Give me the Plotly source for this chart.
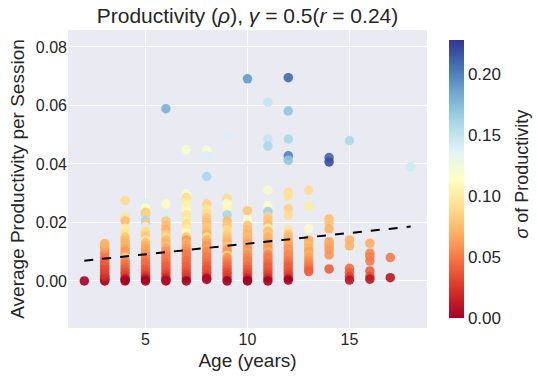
import plotly.graph_objects as go

# productivity per session and its std, per age
age = (
    [2]
    + [3] * 15
    + [4] * 22
    + [5] * 27
    + [6] * 24
    + [7] * 27
    + [8] * 27
    + [9] * 25
    + [10] * 23
    + [11] * 28
    + [12] * 27
    + [13] * 15
    + [14] * 11
    + [15] * 7
    + [16] * 7
    + [17] * 2
    + [18]
)

productivity = (
    [0.0]
    # age 3
    + [0.0, 0.0005, 0.001, 0.0015, 0.002, 0.003, 0.004, 0.005, 0.006, 0.007,
       0.008, 0.0095, 0.011, 0.012, 0.0128]
    # age 4
    + [0.0275, 0.0218, 0.0205, 0.018, 0.0165, 0.015, 0.014, 0.013, 0.012, 0.011,
       0.010, 0.009, 0.008, 0.007, 0.006, 0.005, 0.004, 0.003, 0.002, 0.001,
       0.0005, 0.0]
    # age 5
    + [0.0265, 0.025, 0.0235, 0.0225, 0.0208, 0.0195, 0.0185, 0.017, 0.016, 0.015,
       0.014, 0.013, 0.012, 0.011, 0.010, 0.009, 0.008, 0.007, 0.006, 0.005,
       0.004, 0.003, 0.002, 0.0015, 0.001, 0.0005, 0.0]
    # age 6
    + [0.0589, 0.0263, 0.0227, 0.0205, 0.019, 0.0175, 0.016, 0.015, 0.014, 0.013,
       0.012, 0.011, 0.010, 0.009, 0.008, 0.007, 0.006, 0.005, 0.004, 0.003,
       0.002, 0.001, 0.0003, 0.0]
    # age 7
    + [0.0449, 0.0298, 0.0285, 0.027, 0.0255, 0.024, 0.0225, 0.021, 0.0195, 0.018,
       0.0165, 0.015, 0.014, 0.013, 0.012, 0.011, 0.010, 0.009, 0.008, 0.007,
       0.006, 0.005, 0.004, 0.003, 0.002, 0.001, 0.0]
    # age 8
    + [0.0447, 0.0429, 0.0357, 0.0263, 0.0245, 0.023, 0.0215, 0.020, 0.0185, 0.017,
       0.016, 0.015, 0.014, 0.013, 0.012, 0.011, 0.010, 0.009, 0.008, 0.007,
       0.006, 0.005, 0.004, 0.003, 0.002, 0.001, 0.0005]
    # age 9
    + [0.0494, 0.0283, 0.0265, 0.025, 0.0226, 0.0205, 0.019, 0.0175, 0.016, 0.015,
       0.014, 0.013, 0.012, 0.011, 0.010, 0.0088, 0.008, 0.007, 0.006, 0.005,
       0.004, 0.003, 0.002, 0.001, 0.0]
    # age 10
    + [0.0691, 0.024, 0.021, 0.019, 0.0175, 0.016, 0.015, 0.014, 0.013, 0.012,
       0.011, 0.010, 0.009, 0.008, 0.007, 0.006, 0.005, 0.004, 0.003, 0.002,
       0.001, 0.0003, 0.0]
    # age 11
    + [0.0611, 0.0485, 0.0461, 0.031, 0.0256, 0.0237, 0.022, 0.021, 0.0195, 0.018,
       0.017, 0.016, 0.015, 0.014, 0.013, 0.012, 0.011, 0.010, 0.009, 0.008,
       0.007, 0.006, 0.005, 0.004, 0.003, 0.002, 0.001, 0.0]
    # age 12
    + [0.0695, 0.0581, 0.0485, 0.0428, 0.0413, 0.0303, 0.029, 0.0248, 0.0225, 0.0175,
       0.016, 0.015, 0.014, 0.013, 0.012, 0.011, 0.010, 0.009, 0.008, 0.007,
       0.006, 0.005, 0.004, 0.003, 0.002, 0.001, 0.0003]
    # age 13
    + [0.031, 0.0255, 0.0179, 0.014, 0.013, 0.012, 0.011, 0.010, 0.009, 0.008,
       0.007, 0.006, 0.005, 0.004, 0.0032]
    # age 14
    + [0.0422, 0.0407, 0.0212, 0.0197, 0.0178, 0.0134, 0.0125, 0.0117, 0.0105, 0.0089,
       0.0041]
    # age 15
    + [0.048, 0.014, 0.012, 0.0043, 0.003, 0.0015, 0.0003]
    # age 16
    + [0.0129, 0.0095, 0.0083, 0.0068, 0.0034, 0.0016, 0.0006]
    # age 17
    + [0.008, 0.0011]
    # age 18
    + [0.039]
)

sigma = (
    [0.0]
    # age 3
    + [0.0, 0.005, 0.01, 0.015, 0.02, 0.025, 0.03, 0.032, 0.035, 0.04,
       0.042, 0.05, 0.06, 0.065, 0.07]
    # age 4
    + [0.09, 0.095, 0.075, 0.1, 0.095, 0.08, 0.075, 0.07, 0.07, 0.065,
       0.06, 0.065, 0.085, 0.055, 0.05, 0.045, 0.04, 0.035, 0.03, 0.02,
       0.01, 0.0]
    # age 5
    + [0.14, 0.115, 0.08, 0.085, 0.16, 0.08, 0.14, 0.09, 0.085, 0.08,
       0.1, 0.075, 0.07, 0.065, 0.065, 0.06, 0.055, 0.05, 0.045, 0.045,
       0.04, 0.035, 0.03, 0.025, 0.02, 0.01, 0.0]
    # age 6
    + [0.18, 0.115, 0.14, 0.08, 0.075, 0.07, 0.08, 0.09, 0.075, 0.07,
       0.075, 0.065, 0.06, 0.055, 0.05, 0.05, 0.045, 0.04, 0.04, 0.035,
       0.03, 0.02, 0.012, 0.005]
    # age 7
    + [0.12, 0.12, 0.09, 0.1, 0.105, 0.11, 0.095, 0.1, 0.09, 0.1,
       0.11, 0.08, 0.06, 0.07, 0.065, 0.06, 0.055, 0.05, 0.05, 0.045,
       0.045, 0.04, 0.04, 0.035, 0.03, 0.025, 0.0]
    # age 8
    + [0.12, 0.14, 0.16, 0.085, 0.095, 0.09, 0.08, 0.075, 0.08, 0.075,
       0.07, 0.09, 0.07, 0.065, 0.06, 0.065, 0.055, 0.055, 0.05, 0.05,
       0.045, 0.04, 0.035, 0.035, 0.03, 0.01, 0.005]
    # age 9
    + [0.14, 0.09, 0.12, 0.11, 0.16, 0.075, 0.08, 0.09, 0.085, 0.08,
       0.075, 0.07, 0.08, 0.065, 0.06, 0.085, 0.06, 0.055, 0.05, 0.045,
       0.04, 0.035, 0.03, 0.025, 0.0]
    # age 10
    + [0.19, 0.08, 0.12, 0.08, 0.075, 0.07, 0.075, 0.07, 0.065, 0.07,
       0.06, 0.065, 0.06, 0.055, 0.05, 0.05, 0.045, 0.04, 0.035, 0.03,
       0.02, 0.01, 0.0]
    # age 11
    + [0.15, 0.15, 0.16, 0.12, 0.115, 0.165, 0.085, 0.08, 0.075, 0.1,
       0.075, 0.08, 0.07, 0.07, 0.065, 0.065, 0.06, 0.07, 0.055, 0.05,
       0.05, 0.045, 0.04, 0.04, 0.035, 0.03, 0.02, 0.0]
    # age 12
    + [0.21, 0.17, 0.16, 0.2, 0.17, 0.09, 0.095, 0.085, 0.09, 0.095,
       0.08, 0.075, 0.07, 0.07, 0.065, 0.06, 0.06, 0.055, 0.055, 0.05,
       0.045, 0.04, 0.04, 0.035, 0.03, 0.02, 0.0]
    # age 13
    + [0.09, 0.1, 0.12, 0.07, 0.07, 0.075, 0.07, 0.065, 0.07, 0.065,
       0.06, 0.055, 0.05, 0.045, 0.04]
    # age 14
    + [0.21, 0.22, 0.075, 0.08, 0.07, 0.065, 0.068, 0.065, 0.062, 0.06,
       0.04]
    # age 15
    + [0.16, 0.07, 0.07, 0.045, 0.04, 0.03, 0.01]
    # age 16
    + [0.068, 0.055, 0.052, 0.05, 0.04, 0.035, 0.01]
    # age 17
    + [0.05, 0.01]
    # age 18
    + [0.145]
)

# linear fit shown as dashed line
fit_slope = 0.00073
fit_intercept = 0.00544
fit_ages = [2, 18]
fit_values = [fit_intercept + fit_slope * a for a in fit_ages]

FONT = "Liberation Sans, Arial, sans-serif"
TEXT = "#262626"

fig = go.Figure()

fig.add_trace(go.Scatter(
    x=age, y=productivity, mode="markers",
    marker=dict(
        size=9.5, color=sigma, colorscale="RdYlBu", cmin=0, cmax=0.228,
        opacity=0.9, line=dict(width=0),
        colorbar=dict(
            thickness=15, len=1, lenmode="fraction", y=0.5, yanchor="middle",
            x=1.061, xanchor="left", xpad=0, outlinewidth=0,
            tickvals=[0, 0.05, 0.10, 0.15, 0.20], tickformat=".2f",
            ticks="", ticklabelposition="outside",
            tickfont=dict(size=17, color=TEXT, family=FONT),
        ),
    ),
    showlegend=False, hoverinfo="x+y",
))

fig.add_trace(go.Scatter(
    x=fit_ages, y=fit_values, mode="lines",
    line=dict(color="black", width=2, dash="dash"),
    showlegend=False,
))

fig.update_layout(
    width=537, height=380,
    margin=dict(l=68, r=110, t=30, b=52, autoexpand=False),
    paper_bgcolor="white", plot_bgcolor="#EAEAF2",
    font=dict(family=FONT, color=TEXT),
    title=dict(
        text="Productivity (<i>ρ</i>), <i>γ</i> = 0.5(<i>r</i> = 0.24)",
        x=0.5, xref="paper", xanchor="center",
        y=1 - 16 / 380, yref="container", yanchor="middle",
        font=dict(size=21, color=TEXT, family=FONT),
    ),
)

# colorbar label, placed by hand to sit where the reference has it
fig.add_annotation(
    text="<i>σ</i> of Productivity", textangle=-90,
    x=1.262, y=0.515, xref="paper", yref="paper",
    xanchor="center", yanchor="middle", showarrow=False,
    font=dict(size=18, color=TEXT, family=FONT),
)

fig.update_xaxes(
    range=[1.2, 18.8], tickvals=[5, 10, 15], automargin=False,
    showgrid=True, gridcolor="white", gridwidth=1.2, zeroline=False,
    ticks="", tickfont=dict(size=16, color=TEXT),
    title=dict(text="Age (years)", font=dict(size=19, color=TEXT), standoff=6),
)
fig.update_yaxes(
    range=[-0.0161, 0.0858], tickvals=[0, 0.02, 0.04, 0.06, 0.08], tickformat=".2f",
    automargin=False,
    showgrid=True, gridcolor="white", gridwidth=1.2, zeroline=False,
    ticks="", tickfont=dict(size=16, color=TEXT),
    title=dict(text="Average Productivity per Session", font=dict(size=19, color=TEXT), standoff=6),
)

# drop the browser's default page margin so the figure fills the window
fig.write_html(
    "out.html",
    config={"displayModeBar": False},
    post_script="document.body.style.margin = '0';",
)
